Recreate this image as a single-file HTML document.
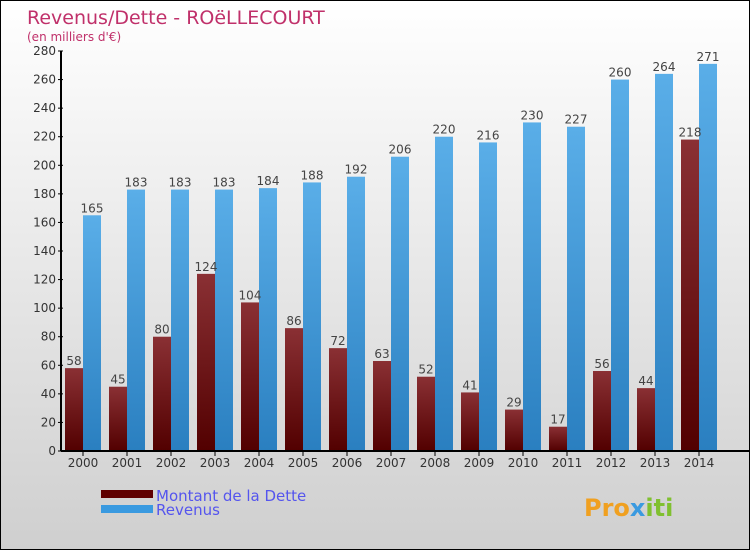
<!DOCTYPE html>
<html><head><meta charset="utf-8"><style>
body{margin:0}
#c{width:750px;height:550px;position:relative;box-sizing:border-box;border:1px solid #000;background:linear-gradient(#ffffff,#cfcfcf);font-family:"DejaVu Sans","Liberation Sans",sans-serif;overflow:hidden}
</style></head><body>
<div id="c">
<svg width="750" height="550" style="position:absolute;left:0;top:0" id="s">
<defs>
<linearGradient id="gd" x1="0" y1="0" x2="0" y2="1"><stop offset="0" stop-color="#8a3034"/><stop offset="1" stop-color="#520000"/></linearGradient>
<linearGradient id="gr" x1="0" y1="0" x2="0" y2="1"><stop offset="0" stop-color="#5aaee8"/><stop offset="1" stop-color="#2a7fc0"/></linearGradient>
</defs>
<text x="26" y="23" font-size="19" fill="#c0306a">Revenus/Dette - ROëLLECOURT</text>
<text x="26" y="40" font-size="12" fill="#c0306a">(en milliers d'€)</text>
<g id="bars"></g>
<g id="axes"></g>
<rect x="100" y="489" width="52" height="8" fill="#600000"/>
<rect x="100" y="504" width="52" height="8" fill="#3a9ae0"/>
<text x="155" y="500" font-size="15" fill="#5555ee">Montant de la Dette</text>
<text x="155" y="514" font-size="15" fill="#5555ee">Revenus</text>
<text x="583" y="515" font-size="24" font-weight="bold" fill="#f0a020">Pro<tspan fill="#3a9ae0">x</tspan><tspan fill="#80c030">iti</tspan></text>
</svg>
</div>
<script>
const years=["2000","2001","2002","2003","2004","2005","2006","2007","2008","2009","2010","2011","2012","2013","2014"];
const debt=[58,45,80,124,104,86,72,63,52,41,29,17,56,44,218];
const revenue=[165,183,183,183,184,188,192,206,220,216,230,227,260,264,271];
const yTicks=[0,20,40,60,80,100,120,140,160,180,200,220,240,260,280];
const NS="http://www.w3.org/2000/svg";
const y=v=>450-v*400/280;
const x=i=>82+i*44;
function mk(t,a,p){const e=document.createElementNS(NS,t);for(const k in a)e.setAttribute(k,a[k]);p.appendChild(e);return e;}
const bars=document.getElementById('bars'),axes=document.getElementById('axes');
years.forEach((yr,i)=>{
 let r=mk('rect',{x:x(i)-18,y:y(debt[i]),width:18,height:450-y(debt[i]),fill:'url(#gd)'},bars);
 
 
 let r2=mk('rect',{x:x(i),y:y(revenue[i]),width:18,height:450-y(revenue[i]),fill:'url(#gr)'},bars);
 
 
 let t=mk('text',{x:x(i)-9,y:y(debt[i])-3,'font-size':12,fill:'#444','text-anchor':'middle'},bars);t.textContent=debt[i];
 
 
 let t2=mk('text',{x:x(i)+9,y:y(revenue[i])-3,'font-size':12,fill:'#444','text-anchor':'middle'},bars);t2.textContent=revenue[i];
 
 
 mk('line',{x1:x(i),x2:x(i),y1:450,y2:455,stroke:'#000'},axes);
 let l=mk('text',{x:x(i),y:466,'font-size':12,fill:'#333','text-anchor':'middle'},axes);l.textContent=yr;
 
 
});
yTicks.forEach(v=>{
 mk('line',{x1:57,x2:62,y1:y(v),y2:y(v),stroke:'#000'},axes);
 let l=mk('text',{x:55,y:y(v)+4,'font-size':12,fill:'#333','text-anchor':'end'},axes);l.textContent=v;
 
 
});
mk('line',{x1:60,x2:60,y1:50,y2:450,stroke:'#000','stroke-width':2},axes);
mk('line',{x1:60,x2:750,y1:450,y2:450,stroke:'#000','stroke-width':2},axes);
</script>
</body></html>
